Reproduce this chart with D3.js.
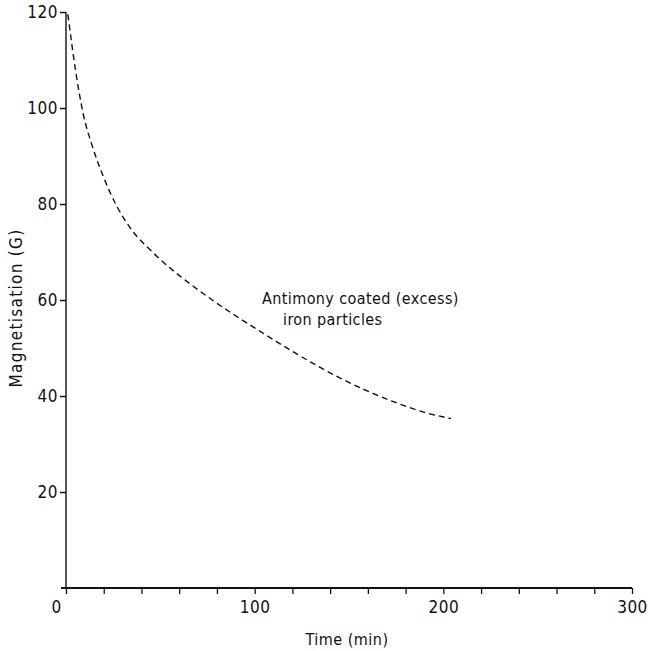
<!DOCTYPE html>
<html>
<head>
<meta charset="utf-8">
<script src="https://cdn.jsdelivr.net/npm/d3@7"></script>
<style>
  body { margin: 0; background: #fff; }
  text { font-family: "DejaVu Sans Condensed", "DejaVu Sans", sans-serif; font-stretch: condensed; fill: #111; }
</style>
</head>
<body>
<div id="chart"></div>
<script>
// time in minutes, magnetisation in gauss
const timeMin = [1, 5, 9, 14, 20, 27, 35, 45, 55, 65, 75, 88, 100, 115, 130, 145, 160, 175, 190, 204];
const magnetisation = [119.5, 108, 99, 92, 85.5, 79.5, 74.5, 70.3, 66.7, 63.6, 60.7, 57.2, 54.2, 50.5, 47, 43.8, 41, 38.6, 36.6, 35.3];

const xTicks = d3.range(0, 301, 20);
const xLabels = [0, 100, 200, 300];
const yTicks = [20, 40, 60, 80, 100, 120];

const label = ["Antimony coated (excess)", "iron particles"];

const width = 648, height = 651;

const svg = d3.select("#chart").append("svg")
    .attr("width", width)
    .attr("height", height);

const x = d3.scaleLinear().domain([0, 300]).range([66, 632]);
const y = d3.scaleLinear().domain([0, 120]).range([588, 12]);

// x axis
const xAxis = svg.append("g")
    .attr("transform", "translate(0," + y(0) + ")")
    .call(d3.axisBottom(x)
        .tickValues(xTicks)
        .tickSize(6)
        .tickSizeOuter(0)
        .tickFormat(d => xLabels.includes(d) ? d : ""));
xAxis.select(".domain")
    .attr("d", "M" + (x(0) - 5) + ",0H" + x(300))
    .attr("stroke", "#111")
    .attr("stroke-width", 2.2);
xAxis.selectAll(".tick line").attr("stroke", "#111").attr("stroke-width", 1.3);
xAxis.selectAll(".tick text")
    .attr("y", 13)
    .style("font-size", "17px")
    .style("letter-spacing", "0.5px");
xAxis.selectAll(".tick text").filter(d => d === 0).attr("dx", -10);

// y axis
const yAxis = svg.append("g")
    .attr("transform", "translate(" + x(0) + ",0)")
    .call(d3.axisLeft(y)
        .tickValues(yTicks)
        .tickSize(6)
        .tickSizeOuter(0));
yAxis.select(".domain")
    .attr("d", "M0," + y(0) + "V" + y(120))
    .attr("stroke", "#111")
    .attr("stroke-width", 1.4);
yAxis.selectAll(".tick line").attr("stroke", "#111").attr("stroke-width", 1.5);
yAxis.selectAll(".tick text")
    .attr("x", -8)
    .style("font-size", "17px")
    .style("letter-spacing", "0.5px");

// axis titles
svg.append("text")
    .attr("x", 347)
    .attr("y", 645)
    .attr("text-anchor", "middle")
    .style("font-size", "16px")
    .style("letter-spacing", "0.5px")
    .text("Time (min)");

svg.append("text")
    .attr("transform", "translate(22,308) rotate(-90)")
    .attr("text-anchor", "middle")
    .style("font-size", "17px")
    .style("letter-spacing", "1.3px")
    .text("Magnetisation (G)");

// the curve
const line = d3.line()
    .x((d, i) => x(timeMin[i]))
    .y(d => y(d))
    .curve(d3.curveMonotoneX);

svg.append("path")
    .datum(magnetisation)
    .attr("d", line)
    .attr("fill", "none")
    .attr("stroke", "#111")
    .attr("stroke-width", 1.4)
    .attr("stroke-dasharray", "6,4");

// annotation
svg.append("text")
    .attr("x", 262)
    .attr("y", 304)
    .style("font-size", "16px")
    .style("letter-spacing", "0.4px")
    .text(label[0]);
svg.append("text")
    .attr("x", 283)
    .attr("y", 325)
    .style("font-size", "16px")
    .style("letter-spacing", "0.4px")
    .text(label[1]);
</script>
</body>
</html>
